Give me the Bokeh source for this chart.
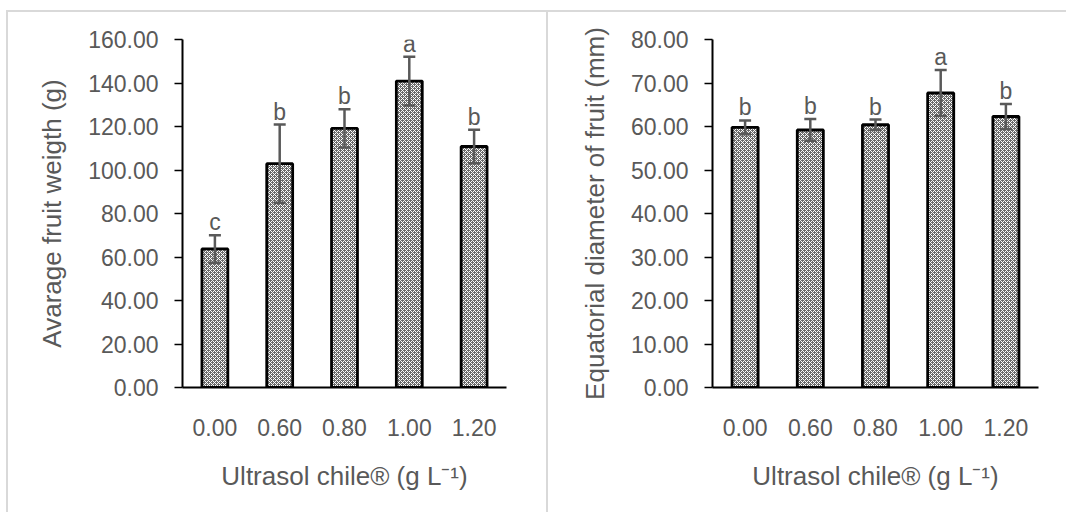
from bokeh.plotting import figure
from bokeh.models import (Range1d, FactorRange, Whisker, ColumnDataSource,
                          TeeHead, NumeralTickFormatter, FixedTicker)
from bokeh.layouts import row
from bokeh.embed import file_html
from bokeh.resources import INLINE

doses = ["0.00", "0.60", "0.80", "1.00", "1.20"]
weight_mean = [63.7, 102.9, 119.1, 140.9, 110.8]
weight_err = [6.3, 18.0, 8.8, 11.2, 7.7]
weight_letters = ["c", "b", "b", "a", "b"]
diam_mean = [59.8, 59.2, 60.4, 67.7, 62.3]
diam_err = [1.6, 2.5, 1.2, 5.3, 2.9]
diam_letters = ["b", "b", "b", "a", "b"]

FONT = "Liberation Sans"
GREY = "#595959"
FRAME = "2px solid #d9d9d9"
XLABEL = "Ultrasol chile\u00ae (g L\u207b\u00b9)"


def panel(width, bl, br, means, errs, letters, ymax, step, ylabel, styles, margin):
    src = ColumnDataSource(dict(
        x=doses, top=means,
        upper=[m + e for m, e in zip(means, errs)],
        lower=[m - e for m, e in zip(means, errs)],
        letter=letters,
    ))
    p = figure(width=width, height=502, x_range=FactorRange(*doses, range_padding=0),
               y_range=Range1d(0, ymax), output_backend="svg", toolbar_location=None,
               min_border_left=bl, min_border_right=br, min_border_top=27, min_border_bottom=127,
               styles=styles, margin=margin)
    p.outline_line_color = None
    p.grid.grid_line_color = None
    p.background_fill_color = "white"
    p.border_fill_color = "white"

    p.vbar(x="x", top="top", width=0.4, source=src, fill_color="#6a6a6a",
           hatch_pattern="diagonal_cross", hatch_color="white", hatch_scale=4, hatch_weight=1,
           line_color="black", line_width=2.8)
    p.add_layout(Whisker(source=src, base="x", upper="upper", lower="lower",
                         line_color=GREY, line_width=2.5, level="annotation",
                         upper_head=TeeHead(size=12, line_color=GREY, line_width=2.5),
                         lower_head=TeeHead(size=12, line_color=GREY, line_width=2.5)))
    p.text(x="x", y="upper", text="letter", source=src, text_align="center",
           text_baseline="alphabetic", y_offset=-13, text_font_size="23px",
           text_color=GREY, text_font={"value": FONT})

    ya = p.yaxis[0]
    ya.ticker = FixedTicker(ticks=list(range(0, ymax + 1, step)))
    ya.formatter = NumeralTickFormatter(format="0.00")
    ya.major_tick_out = 8
    ya.major_tick_in = 0
    ya.minor_tick_out = 0
    ya.minor_tick_in = 0
    ya.major_label_standoff = 16
    ya.axis_line_width = 2
    ya.axis_line_color = "black"
    ya.major_tick_line_color = "black"
    ya.major_tick_line_width = 1.5
    ya.axis_label = ylabel
    ya.axis_label_standoff = 18

    xa = p.xaxis[0]
    xa.major_tick_line_color = None
    xa.minor_tick_line_color = None
    xa.major_label_standoff = 25
    xa.axis_line_width = 2
    xa.axis_line_color = "black"
    xa.axis_label = XLABEL
    xa.axis_label_standoff = 22

    for ax in (xa, ya):
        ax.major_label_text_font = FONT
        ax.major_label_text_font_size = "23px"
        ax.major_label_text_color = GREY
        ax.axis_label_text_font = FONT
        ax.axis_label_text_font_size = "26px"
        ax.axis_label_text_font_style = "normal"
        ax.axis_label_text_color = GREY
    return p


p1 = panel(542, 174, 44, weight_mean, weight_err, weight_letters, 160, 20,
           "Avarage fruit weigth (g)",
           {"box-sizing": "border-box", "border-top": FRAME, "border-left": FRAME,
            "border-right": FRAME},
           (10, 0, 0, 6))
p2 = panel(518, 164, 28, diam_mean, diam_err, diam_letters, 80, 10,
           "Equatorial diameter of fruit (mm)",
           {"box-sizing": "border-box", "border-top": FRAME},
           (10, 0, 0, 0))

layout = row(p1, p2, spacing=0)
open("out.html", "w").write(file_html(layout, INLINE))
